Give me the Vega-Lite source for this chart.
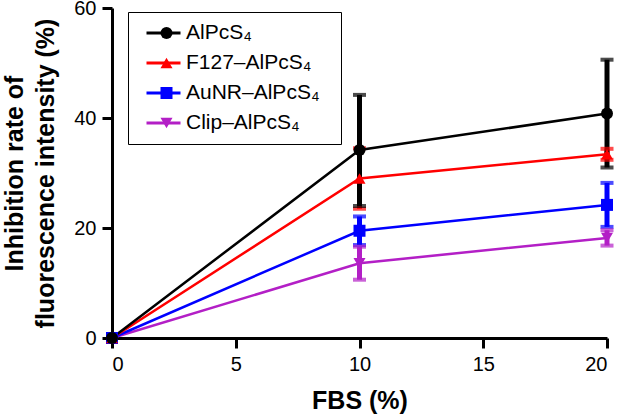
{
  "$schema": "https://vega.github.io/schema/vega-lite/v6.json",
  "width": 495,
  "height": 330,
  "autosize": {"type": "none"},
  "padding": {"left": 112, "top": 8, "right": 11, "bottom": 78},
  "config": {
    "font": "Liberation Sans",
    "view": {"stroke": null},
    "axis": {
      "domainColor": "black", "domainWidth": 3, "tickColor": "black", "tickWidth": 3, "tickSize": 10,
      "labelFontSize": 20, "labelColor": "black", "labelFont": "Liberation Sans",
      "titleFontSize": 25, "titleFontWeight": "bold", "titleColor": "black", "titleFont": "Liberation Sans",
      "grid": false
    }
  },
  "data": {
    "values": [
      {"series": "Clip–AlPcS₄", "fbs": 0, "rate": 0, "lo": 0, "hi": 0},
      {"series": "Clip–AlPcS₄", "fbs": 10, "rate": 13.6, "lo": 10.6, "hi": 16.6},
      {"series": "Clip–AlPcS₄", "fbs": 20, "rate": 18.2, "lo": 16.8, "hi": 19.6},
      {"series": "AuNR–AlPcS₄", "fbs": 0, "rate": 0, "lo": 0, "hi": 0},
      {"series": "AuNR–AlPcS₄", "fbs": 10, "rate": 19.5, "lo": 16.9, "hi": 22.1},
      {"series": "AuNR–AlPcS₄", "fbs": 20, "rate": 24.2, "lo": 20.2, "hi": 28.2},
      {"series": "F127–AlPcS₄", "fbs": 0, "rate": 0, "lo": 0, "hi": 0},
      {"series": "F127–AlPcS₄", "fbs": 10, "rate": 29.0, "lo": 23.5, "hi": 34.5},
      {"series": "F127–AlPcS₄", "fbs": 20, "rate": 33.4, "lo": 32.4, "hi": 34.4},
      {"series": "AlPcS₄", "fbs": 0, "rate": 0, "lo": 0, "hi": 0},
      {"series": "AlPcS₄", "fbs": 10, "rate": 34.2, "lo": 24.0, "hi": 44.2},
      {"series": "AlPcS₄", "fbs": 20, "rate": 40.8, "lo": 31.0, "hi": 50.6}
    ]
  },
  "encoding": {
    "x": {"field": "fbs", "type": "quantitative", "scale": {"domain": [0, 20], "nice": false},
      "axis": {"values": [0, 5, 10, 15, 20], "title": "FBS (%)", "labelPadding": 6, "titlePadding": 14}}
  },
  "layer": [
    {
      "transform": [{"filter": "datum.fbs > 0"}],
      "mark": {"type": "rule", "strokeWidth": 5},
      "encoding": {
        "y": {"field": "lo", "type": "quantitative", "scale": {"domain": [0, 60], "nice": false},
          "axis": {"values": [0, 20, 40, 60], "title": ["Inhibition rate of", "fluorescence intensity (%)"], "titleLineHeight": 31, "labelPadding": 6, "titlePadding": 15}},
        "y2": {"field": "hi"},
        "color": {"field": "series", "type": "nominal",
          "scale": {"domain": ["AlPcS₄", "F127–AlPcS₄", "AuNR–AlPcS₄", "Clip–AlPcS₄"], "range": ["#000000", "#ff0000", "#0000ff", "#b31fc6"]},
          "legend": null}
      }
    },
    {
      "transform": [{"filter": "datum.fbs > 0"}],
      "mark": {"type": "tick", "orient": "horizontal", "size": 13, "thickness": 4},
      "encoding": {"y": {"field": "lo", "type": "quantitative"},
        "color": {"field": "series", "type": "nominal", "legend": null}}
    },
    {
      "transform": [{"filter": "datum.fbs > 0"}],
      "mark": {"type": "tick", "orient": "horizontal", "size": 13, "thickness": 4},
      "encoding": {"y": {"field": "hi", "type": "quantitative"},
        "color": {"field": "series", "type": "nominal", "legend": null}}
    },
    {
      "mark": {"type": "line", "strokeWidth": 2.5},
      "encoding": {
        "y": {"field": "rate", "type": "quantitative"},
        "stroke": {"field": "series", "type": "nominal",
          "scale": {"domain": ["AlPcS₄", "F127–AlPcS₄", "AuNR–AlPcS₄", "Clip–AlPcS₄"], "range": ["#000000", "#ff0000", "#0000ff", "#b31fc6"]},
          "legend": {
            "title": " ", "titleOrient": "right", "titlePadding": 16,
            "orient": "none", "legendX": 16, "legendY": 4,
            "strokeColor": "black", "padding": 6, "clipHeight": 30, "rowPadding": 0,
            "symbolType": "stroke", "symbolSize": 1156, "symbolStrokeWidth": 3, "symbolOffset": 11,
            "labelFont": "Liberation Sans", "labelFontSize": 21, "labelColor": "black", "labelLimit": 400,
            "labelOffset": 4
          }
        }
      }
    },
    {
      "mark": {"type": "point", "filled": true, "opacity": 1, "size": 144},
      "encoding": {
        "y": {"field": "rate", "type": "quantitative"},
        "fill": {"field": "series", "type": "nominal",
          "scale": {"domain": ["AlPcS₄", "F127–AlPcS₄", "AuNR–AlPcS₄", "Clip–AlPcS₄"], "range": ["#000000", "#ff0000", "#0000ff", "#b31fc6"]},
          "legend": {
            "title": null, "orient": "none", "legendX": 27, "legendY": 4,
            "padding": 6, "clipHeight": 30, "rowPadding": 0, "symbolOffset": 11,
            "symbolSize": 144, "symbolStrokeWidth": 0, "symbolOpacity": 1,
            "labelExpr": "''", "labelFontSize": 21
          }
        },
        "shape": {"field": "series", "type": "nominal",
          "scale": {"domain": ["AlPcS₄", "F127–AlPcS₄", "AuNR–AlPcS₄", "Clip–AlPcS₄"], "range": ["circle", "triangle-up", "square", "triangle-down"]},
          "legend": {
            "title": null, "orient": "none", "legendX": 27, "legendY": 4,
            "padding": 6, "clipHeight": 30, "rowPadding": 0, "symbolOffset": 11,
            "symbolSize": 144, "symbolStrokeWidth": 0, "symbolOpacity": 1,
            "labelExpr": "''", "labelFontSize": 21
          }
        }
      }
    }
  ],
  "resolve": {
    "scale": {"stroke": "independent", "fill": "independent", "shape": "independent"},
    "legend": {"stroke": "independent", "fill": "independent", "shape": "independent"}
  }
}
